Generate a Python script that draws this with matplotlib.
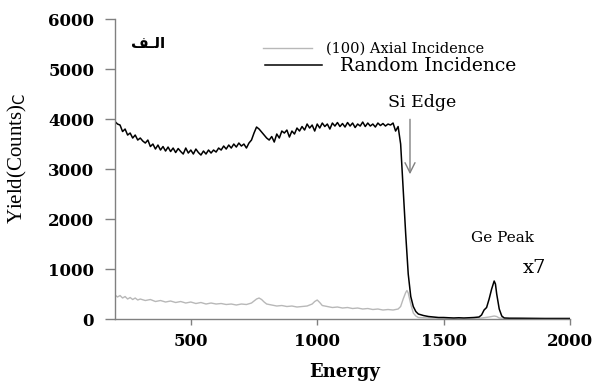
import matplotlib.pyplot as plt

###############################################################################
# Data
rand_energy = [200, 210, 220, 230, 240, 250, 260, 270, 280, 290,
               300, 310, 320, 330, 340, 350, 360, 370, 380, 390,
               400, 410, 420, 430, 440, 450, 460, 470, 480, 490,
               500, 510, 520, 530, 540, 550, 560, 570, 580, 590,
               600, 610, 620, 630, 640, 650, 660, 670, 680, 690,
               700, 710, 720, 730, 740, 750, 760, 770, 780, 790,
               800, 810, 820, 830, 840, 850, 860, 870, 880, 890,
               900, 910, 920, 930, 940, 950, 960, 970, 980, 990,
               1000, 1010, 1020, 1030, 1040, 1050, 1060, 1070, 1080, 1090,
               1100, 1110, 1120, 1130, 1140, 1150, 1160, 1170, 1180, 1190,
               1200, 1210, 1220, 1230, 1240, 1250, 1260, 1270, 1280, 1290,
               1300, 1310, 1320, 1330, 1340, 1350, 1360, 1370, 1380, 1390,
               1400, 1420, 1440, 1460, 1480, 1500, 1520, 1540, 1560, 1580,
               1600, 1620, 1640, 1650, 1660, 1670, 1680, 1690, 1700, 1705,
               1710, 1720, 1730, 1740, 1760, 1800, 1850, 1900, 1950, 2000]
rand_counts = [3950, 3900, 3880, 3750, 3800, 3680, 3720, 3620, 3680, 3580,
               3620, 3560, 3520, 3580, 3450, 3500, 3400, 3480, 3380, 3450,
               3360, 3440, 3350, 3420, 3330, 3410, 3350, 3300, 3420, 3320,
               3380, 3300, 3400, 3330, 3280, 3360, 3300, 3380, 3320, 3380,
               3340, 3420, 3380, 3460, 3400, 3480, 3420, 3500, 3440, 3520,
               3460, 3500, 3420, 3520, 3580, 3720, 3840, 3800, 3740, 3680,
               3620, 3580, 3650, 3540, 3700, 3620, 3760, 3720, 3780, 3640,
               3760, 3700, 3820, 3760, 3850, 3780, 3900, 3820, 3880, 3760,
               3900, 3820, 3920, 3850, 3900, 3800, 3920, 3860, 3930, 3850,
               3910, 3840, 3930, 3860, 3920, 3830, 3900, 3860, 3940, 3850,
               3920, 3860, 3900, 3840, 3920, 3870, 3910, 3860, 3900, 3880,
               3920, 3760, 3850, 3500, 2600, 1700, 900, 450, 250, 150,
               100, 70, 50, 40, 30, 30, 25, 20, 25, 20,
               25, 30, 40, 80, 180, 230, 400, 600, 760, 700,
               500, 200, 60, 20, 15, 15, 12, 10, 10, 10]

axial_energy = [200, 210, 220, 230, 240, 250, 260, 270, 280, 290,
                300, 320, 340, 360, 380, 400, 420, 440, 460, 480,
                500, 520, 540, 560, 580, 600, 620, 640, 660, 680,
                700, 720, 740, 750, 760, 770, 780, 790, 800, 820,
                840, 860, 880, 900, 920, 940, 960, 980, 990, 1000,
                1010, 1020, 1040, 1060, 1080, 1100, 1120, 1140, 1160, 1180,
                1200, 1220, 1240, 1260, 1280, 1300, 1320, 1330, 1340, 1350,
                1355, 1360, 1370, 1380, 1390, 1400, 1450, 1500, 1600, 1650,
                1680, 1700, 1710, 1720, 1800, 2000]
axial_counts = [480, 440, 470, 420, 450, 400, 430, 390, 420, 380,
                400, 370, 390, 350, 370, 340, 360, 330, 350, 320,
                340, 310, 330, 300, 320, 300, 310, 290, 300, 280,
                300, 290, 320, 360, 400, 420, 390, 340, 300, 280,
                260, 270, 250, 260, 240, 250, 260, 300, 350, 380,
                330, 270, 250, 230, 240, 220, 230, 210, 220, 200,
                210, 190, 200, 180, 190, 180, 200, 250, 400, 530,
                570, 520, 300, 120, 60, 30, 20, 15, 15, 20,
                40, 60, 50, 20, 10, 10]

x_ticks = [500, 1000, 1500, 2000]
y_ticks = [0, 1000, 2000, 3000, 4000, 5000, 6000]

###############################################################################
# Figure
serif = 'DejaVu Serif'
fig = plt.figure(figsize=(5.97, 3.81), dpi=100)
ax = fig.add_axes([0.1926, 0.1627, 0.7622, 0.7873])

l_axial, = ax.plot(axial_energy, axial_counts, color='#b8b8b8', lw=1.0,
                   label='(100) Axial Incidence')
l_rand, = ax.plot(rand_energy, rand_counts, color='black', lw=1.1,
                  label='Random Incidence')

ax.set_xlim(200, 2000)
ax.set_ylim(0, 6000)
ax.set_xticks(x_ticks)
ax.set_yticks(y_ticks)
for s in ['top', 'right']:
    ax.spines[s].set_visible(False)
for s in ['left', 'bottom']:
    ax.spines[s].set_color('#808080')
    ax.spines[s].set_linewidth(1.0)
ax.tick_params(axis='x', direction='out', length=4, color='#808080',
               width=1.0, pad=6)
ax.tick_params(axis='y', direction='out', length=7, color='#808080',
               width=1.0, pad=8)
for lab in ax.get_xticklabels() + ax.get_yticklabels():
    lab.set_fontfamily(serif)
    lab.set_fontsize(12)
    lab.set_fontweight('bold')

ax.set_xlabel('Energy', fontfamily=serif, fontsize=13, fontweight='bold')
ax.xaxis.set_label_coords(0.505, -0.145)
ax.set_ylabel('Yield(Counts)$_\\mathrm{C}$', fontfamily='Liberation Serif',
              fontsize=15)
ax.yaxis.set_label_coords(-0.19, 0.537)

# legend: one entry per box, different text sizes
leg1 = ax.legend(handles=[l_axial], loc='center left',
                 bbox_to_anchor=(0.325, 0.90), frameon=False,
                 handlelength=3.4, handletextpad=0.95, borderpad=0,
                 borderaxespad=0, prop={'family': serif, 'size': 10.5})
ax.add_artist(leg1)
ax.legend(handles=[l_rand], loc='center left',
          bbox_to_anchor=(0.33, 0.843), frameon=False,
          handlelength=3.05, handletextpad=0.95, borderpad=0,
          borderaxespad=0, prop={'family': serif, 'size': 13.5})

# annotations
ax.annotate('', xy=(1367, 2840), xytext=(1367, 4050),
            arrowprops=dict(arrowstyle='->', color='#808080', lw=1.0,
                            mutation_scale=18))
ax.text(1414, 4340, 'Si Edge', fontfamily=serif, fontsize=12.5,
        ha='center', va='center')
ax.text(1731, 1620, 'Ge Peak', fontfamily=serif, fontsize=11,
        ha='center', va='center')
ax.text(1858, 1020, 'x7', fontfamily=serif, fontsize=14,
        ha='center', va='center')
# Arabic label "الف" in visual order with presentation forms
ax.text(0.035, 0.92, '\ufed2\u0640\ufedf\ufe8d', transform=ax.transAxes,
        fontfamily='DejaVu Sans', fontsize=11, fontweight='bold',
        ha='left', va='center')

fig.savefig('out.png', dpi=100)
